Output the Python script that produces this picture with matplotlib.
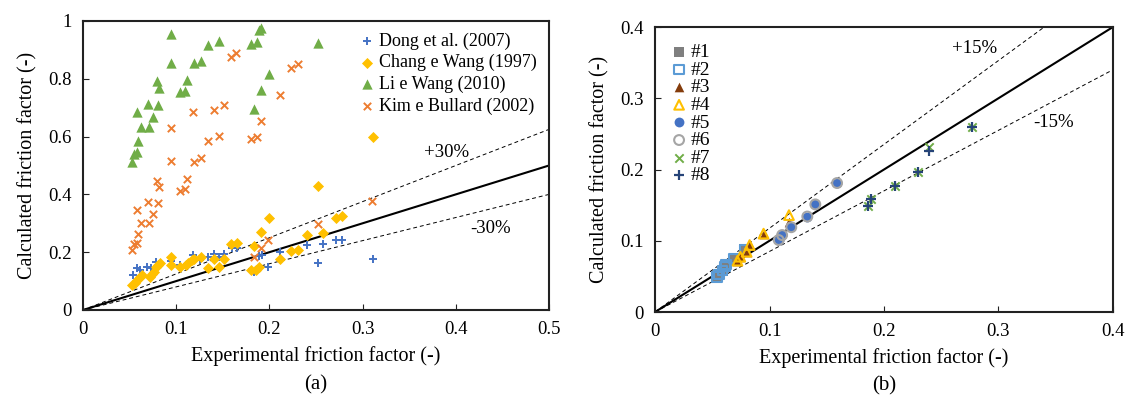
import matplotlib
matplotlib.use('Agg')
import matplotlib.pyplot as plt

plt.rcParams['font.family'] = ['Liberation Serif', 'DejaVu Serif']

# ---- panel (a) data ----
dong_x = [0.054, 0.058, 0.061, 0.069, 0.073, 0.078, 0.082, 0.094, 0.104, 0.118, 0.126, 0.134, 0.141, 0.146, 0.151,
          0.160, 0.165, 0.183, 0.186, 0.189, 0.192, 0.199, 0.211, 0.240, 0.252, 0.257, 0.271, 0.278, 0.311]
dong_y = [0.121, 0.147, 0.140, 0.149, 0.144, 0.167, 0.159, 0.170, 0.155, 0.192, 0.172, 0.182, 0.193, 0.184, 0.195,
          0.213, 0.213, 0.132, 0.140, 0.187, 0.190, 0.149, 0.199, 0.224, 0.161, 0.230, 0.241, 0.241, 0.176]

chang_x = [0.053, 0.056, 0.058, 0.061, 0.063, 0.072, 0.074, 0.076, 0.078, 0.081, 0.083, 0.094, 0.094, 0.104,
           0.110, 0.113, 0.117, 0.119, 0.127, 0.134, 0.141, 0.146, 0.151, 0.159, 0.165, 0.180, 0.184, 0.186,
           0.189, 0.191, 0.200, 0.211, 0.223, 0.231, 0.240, 0.252, 0.257, 0.271, 0.278, 0.311]
chang_y = [0.086, 0.093, 0.103, 0.113, 0.121, 0.115, 0.126, 0.132, 0.149, 0.155, 0.161, 0.182, 0.155, 0.149,
           0.155, 0.163, 0.172, 0.178, 0.184, 0.147, 0.175, 0.149, 0.178, 0.228, 0.232, 0.138, 0.221, 0.140,
           0.149, 0.270, 0.318, 0.178, 0.204, 0.209, 0.259, 0.428, 0.268, 0.320, 0.325, 0.598]

li_x = [0.094, 0.191, 0.189, 0.252, 0.134, 0.146, 0.180, 0.187, 0.094, 0.119, 0.127, 0.200, 0.079, 0.082, 0.112,
        0.104, 0.109, 0.191, 0.058, 0.070, 0.080, 0.183, 0.075, 0.062, 0.071, 0.059, 0.058, 0.055, 0.053]
li_y = [0.954, 0.975, 0.968, 0.923, 0.916, 0.931, 0.922, 0.929, 0.854, 0.853, 0.862, 0.816, 0.791, 0.768, 0.797,
        0.753, 0.759, 0.761, 0.684, 0.713, 0.709, 0.695, 0.667, 0.632, 0.634, 0.584, 0.546, 0.540, 0.511]

kim_x = [0.159, 0.164, 0.223, 0.231, 0.211, 0.118, 0.141, 0.151, 0.191, 0.094, 0.134, 0.146, 0.180, 0.187, 0.094,
         0.119, 0.127, 0.079, 0.082, 0.112, 0.104, 0.109, 0.058, 0.070, 0.080, 0.075, 0.062, 0.071, 0.059, 0.058,
         0.055, 0.053, 0.252, 0.191, 0.199, 0.183, 0.310]
kim_y = [0.876, 0.888, 0.839, 0.851, 0.744, 0.686, 0.692, 0.711, 0.653, 0.629, 0.584, 0.603, 0.592, 0.600, 0.517,
         0.513, 0.525, 0.448, 0.425, 0.454, 0.411, 0.417, 0.347, 0.372, 0.370, 0.331, 0.302, 0.302, 0.262, 0.232,
         0.228, 0.207, 0.299, 0.213, 0.241, 0.182, 0.376]

# ---- panel (b) data ----
sq_x = [0.054, 0.056, 0.059, 0.061, 0.062, 0.069, 0.078]
sq_y = [0.049, 0.053, 0.058, 0.064, 0.067, 0.075, 0.088]
tri3_x = [0.072, 0.0745, 0.080, 0.0826, 0.0948, 0.117]
tri3_y = [0.072, 0.0776, 0.0846, 0.094, 0.110, 0.127]
tri4_x = [0.072, 0.0745, 0.080, 0.0826, 0.0948, 0.117]
tri4_y = [0.072, 0.0776, 0.0846, 0.094, 0.110, 0.136]
circ_x = [0.108, 0.111, 0.119, 0.133, 0.140, 0.159]
circ_y = [0.101, 0.108, 0.119, 0.134, 0.151, 0.181]
c7_x = [0.186, 0.189, 0.210, 0.230, 0.239, 0.277]
c7_y = [0.149, 0.159, 0.177, 0.196, 0.232, 0.260]
c8_x = [0.186, 0.189, 0.210, 0.230, 0.239, 0.277]
c8_y = [0.149, 0.159, 0.177, 0.196, 0.226, 0.260]

fig = plt.figure(figsize=(11.29, 4.03), dpi=100)
ax1 = fig.add_axes([0.0735, 0.2308, 0.4128, 0.7171])
ax2 = fig.add_axes([0.5802, 0.2258, 0.4056, 0.7072])

# panel (a)
ax1.scatter(dong_x, dong_y, marker='+', s=32, c='#4472C4', linewidths=1.4, label='Dong et al. (2007)', zorder=3)
ax1.scatter(chang_x, chang_y, marker='D', s=32, c='#FFC000', linewidths=0, label='Chang e Wang (1997)', zorder=3)
ax1.scatter(li_x, li_y, marker='^', s=55, c='#70AD47', linewidths=0, label='Li e Wang (2010)', zorder=3)
ax1.scatter(kim_x, kim_y, marker='x', s=28, c='#ED7D31', linewidths=1.4, label='Kim e Bullard (2002)', zorder=3)
ax1.plot([0, 0.5], [0, 0.5], c='black', lw=1.5, zorder=2)
ax1.plot([0, 0.5], [0, 0.625], c='black', lw=0.7, ls=(0, (4, 3)), zorder=2)
ax1.plot([0, 0.5], [0, 0.4], c='black', lw=0.7, ls=(0, (4, 3)), zorder=2)
ax1.text(0.39, 0.545, '+30%', fontsize=13.5, ha='center', va='center')
ax1.text(0.437, 0.283, '-30%', fontsize=13.5, ha='center', va='center')
ax1.set_xlim(0, 0.5)
ax1.set_ylim(0, 1)
ax1.set_xticks([0, 0.1, 0.2, 0.3, 0.4, 0.5])
ax1.set_xticklabels(['0', '0.1', '0.2', '0.3', '0.4', '0.5'])
ax1.set_yticks([0, 0.2, 0.4, 0.6, 0.8, 1])
ax1.set_yticklabels(['0', '0.2', '0.4', '0.6', '0.8', '1'])
ax1.set_xlabel('Experimental friction factor (-)', fontsize=14.5, labelpad=6)
ax1.set_ylabel('Calculated friction factor (-)', fontsize=14.5, labelpad=8)
ax1.legend(loc='upper left', bbox_to_anchor=(0.57, 1.005), frameon=False, fontsize=13,
           handlelength=0.6, handletextpad=0.4, labelspacing=0.25, borderpad=0.2)
ax1.text(0.5, -0.225, '(a)', transform=ax1.transAxes, fontsize=15, ha='center', va='top')

# panel (b)
ax2.scatter(sq_x, sq_y, marker='s', s=46, c='#7F7F7F', linewidths=0, label='#1', zorder=3)
ax2.scatter(sq_x, sq_y, marker='s', s=46, facecolors='none', edgecolors='#5B9BD5', linewidths=1.5, label='#2', zorder=3)
ax2.scatter(tri3_x, tri3_y, marker='^', s=48, c='#843C0C', linewidths=0, label='#3', zorder=3)
ax2.scatter(tri4_x, tri4_y, marker='^', s=48, facecolors='none', edgecolors='#FFC000', linewidths=1.5, label='#4', zorder=3)
ax2.scatter(circ_x, circ_y, marker='o', s=50, c='#4472C4', linewidths=0, label='#5', zorder=3)
ax2.scatter(circ_x, circ_y, marker='o', s=50, facecolors='none', edgecolors='#A5A5A5', linewidths=1.5, label='#6', zorder=3)
ax2.scatter(c7_x, c7_y, marker='x', s=36, c='#70AD47', linewidths=1.4, label='#7', zorder=3)
ax2.scatter(c8_x, c8_y, marker='+', s=42, c='#264478', linewidths=1.6, label='#8', zorder=3)
ax2.plot([0, 0.4], [0, 0.4], c='black', lw=1.5, zorder=2)
ax2.plot([0, 0.34], [0, 0.4], c='black', lw=0.7, ls=(0, (4, 3)), zorder=2)
ax2.plot([0, 0.4], [0, 0.34], c='black', lw=0.7, ls=(0, (4, 3)), zorder=2)
ax2.text(0.279, 0.370, '+15%', fontsize=13.5, ha='center', va='center')
ax2.text(0.348, 0.266, '-15%', fontsize=13.5, ha='center', va='center')
ax2.set_xlim(0, 0.4)
ax2.set_ylim(0, 0.4)
ax2.set_xticks([0, 0.1, 0.2, 0.3, 0.4])
ax2.set_xticklabels(['0', '0.1', '0.2', '0.3', '0.4'])
ax2.set_yticks([0, 0.1, 0.2, 0.3, 0.4])
ax2.set_yticklabels(['0', '0.1', '0.2', '0.3', '0.4'])
ax2.set_xlabel('Experimental friction factor (-)', fontsize=14.5, labelpad=6)
ax2.set_ylabel('Calculated friction factor (-)', fontsize=14.5, labelpad=8)
ax2.legend(loc='upper left', bbox_to_anchor=(0.01, 0.99), frameon=False, fontsize=14,
           handlelength=0.6, handletextpad=0.3, labelspacing=0.0, borderpad=0.2)
ax2.text(0.5, -0.225, '(b)', transform=ax2.transAxes, fontsize=15, ha='center', va='top')

for ax in (ax1, ax2):
    ax.tick_params(direction='in', length=4, width=0.8, labelsize=13.5, pad=8, colors='#222222', labelcolor='black')
    for sp in ax.spines.values():
        sp.set_linewidth(1.5)
        sp.set_color('#222222')

fig.savefig('out.png', dpi=100)
